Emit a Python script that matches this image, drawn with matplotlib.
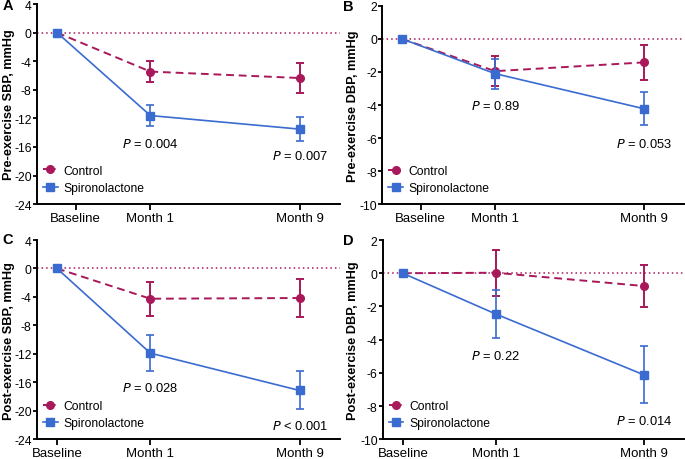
import numpy as np
import matplotlib
matplotlib.use("Agg")
import matplotlib.pyplot as plt
from matplotlib.lines import Line2D

plt.rcParams['font.family'] = ['Liberation Sans', 'DejaVu Sans']
plt.rcParams['axes.unicode_minus'] = False

# x positions of the three visits and labels
visits = ['Baseline', 'Month 1', 'Month 9']
visit_x = [0, 1, 2.6]

# A: pre-exercise SBP
a_ctrl = [0, -5.45, -6.35]
a_ctrl_err = [0, 1.5, 2.05]
a_spiro = [0, -11.6, -13.5]
a_spiro_err = [0, 1.5, 1.65]
a_p = ['$\\it{P}$ = 0.004', '$\\it{P}$ = 0.007']
a_p_y = [-15.45, -17.2]

# B: pre-exercise DBP
b_ctrl = [0, -1.95, -1.42]
b_ctrl_err = [0, 0.9, 1.05]
b_spiro = [0, -2.1, -4.22]
b_spiro_err = [0, 0.9, 0.98]
b_p = ['$\\it{P}$ = 0.89', '$\\it{P}$ = 0.053']
b_p_y = [-4.0, -6.33]

# C: post-exercise SBP
c_ctrl = [0, -4.25, -4.15]
c_ctrl_err = [0, 2.4, 2.7]
c_spiro = [0, -11.9, -17.15]
c_spiro_err = [0, 2.55, 2.67]
c_p = ['$\\it{P}$ = 0.028', '$\\it{P}$ < 0.001']
c_p_y = [-16.75, -22.05]

# D: post-exercise DBP
d_ctrl = [0, 0.03, -0.77]
d_ctrl_err = [0, 1.38, 1.28]
d_spiro = [0, -2.45, -6.12]
d_spiro_err = [0, 1.47, 1.72]
d_p = ['$\\it{P}$ = 0.22', '$\\it{P}$ = 0.014']
d_p_y = [-4.95, -8.9]

RED = '#A8185A'
BLUE = '#3A6BD0'
W, H = 685, 460

fig = plt.figure(figsize=(6.85, 4.6), dpi=100)

# (letter, axes rect, ..., ylabel right edge px, letter pos px)
panels = [
    ('A', [0.054, 0.554, 0.442, 0.435], a_ctrl, a_ctrl_err, a_spiro, a_spiro_err,
     a_p, a_p_y, (-24, 4), np.arange(-24, 5, 4), 'Pre-exercise SBP, mmHg', 0.2,
     15, (8, 6)),
    ('B', [0.558, 0.554, 0.44, 0.431], b_ctrl, b_ctrl_err, b_spiro, b_spiro_err,
     b_p, b_p_y, (-10, 2), np.arange(-10, 3, 2), 'Pre-exercise DBP, mmHg', 0.2,
     359, (348, 7)),
    ('C', [0.054, 0.043, 0.442, 0.433], c_ctrl, c_ctrl_err, c_spiro, c_spiro_err,
     c_p, c_p_y, (-24, 4), np.arange(-24, 5, 4), 'Post-exercise SBP, mmHg', 0.0,
     15, (8, 240)),
    ('D', [0.559, 0.043, 0.439, 0.433], d_ctrl, d_ctrl_err, d_spiro, d_spiro_err,
     d_p, d_p_y, (-10, 2), np.arange(-10, 3, 2), 'Post-exercise DBP, mmHg', 0.0,
     359, (348, 241)),
]

for (letter, rect, ctrl, ctrl_err, spiro, spiro_err, ptxt, py, ylim, yticks,
     ylabel, base_off, ylab_x, let_xy) in panels:
    ax = fig.add_axes(rect)
    ax.axhline(0, color=RED, ls=(0, (1, 2)), lw=1.1, zorder=1)
    ax.errorbar(visit_x, ctrl, yerr=ctrl_err, color=RED, ls=(0, (4, 2.5)), lw=1.4,
                marker='o', ms=5.5, capsize=2.7, elinewidth=1.4, capthick=1.4,
                zorder=3)
    ax.errorbar(visit_x, spiro, yerr=spiro_err, color=BLUE, ls='-', lw=1.2,
                marker='s', ms=5.5, capsize=2.7, elinewidth=1.2, capthick=1.2,
                zorder=4)
    for xi, txt, yy in zip(visit_x[1:], ptxt, py):
        ax.text(xi, yy, txt, ha='center', va='center', fontsize=9.3)
    ax.set_xlim(-0.215, 3.03)
    ax.set_ylim(*ylim)
    ax.set_yticks(yticks)
    ax.set_xticks([visit_x[0] + base_off] + visit_x[1:])
    ax.set_xticklabels(visits, fontsize=9.5)
    ax.tick_params(axis='y', labelsize=8.7, width=1.3, length=3, pad=0.8)
    ax.tick_params(axis='x', width=1.3, length=4, pad=1.5)
    for s in ['top', 'right']:
        ax.spines[s].set_visible(False)
    for s in ['left', 'bottom']:
        ax.spines[s].set_linewidth(1.4)
    ax.set_ylabel(ylabel, fontsize=9.2, fontweight='bold')
    ax.yaxis.set_label_coords((ylab_x - rect[0] * W) / (rect[2] * W), 0.5)
    handles = [
        Line2D([], [], color=RED, ls=(0, (2.5, 1.5)), lw=1.4, marker='o', ms=5.5),
        Line2D([], [], color=BLUE, ls='-', lw=1.2, marker='s', ms=5.5),
    ]
    ax.legend(handles, ['Control', 'Spironolactone'], loc='lower left',
              frameon=False, fontsize=8.7, handlelength=1.2, handletextpad=0.5,
              labelspacing=0.45, borderaxespad=0.0, borderpad=0.0,
              bbox_to_anchor=(0.02, 0.05))
    fig.text(let_xy[0] / W, 1 - let_xy[1] / H, letter, fontsize=10.5,
             fontweight='bold', ha='center', va='center')

fig.savefig('out.png', dpi=100)
